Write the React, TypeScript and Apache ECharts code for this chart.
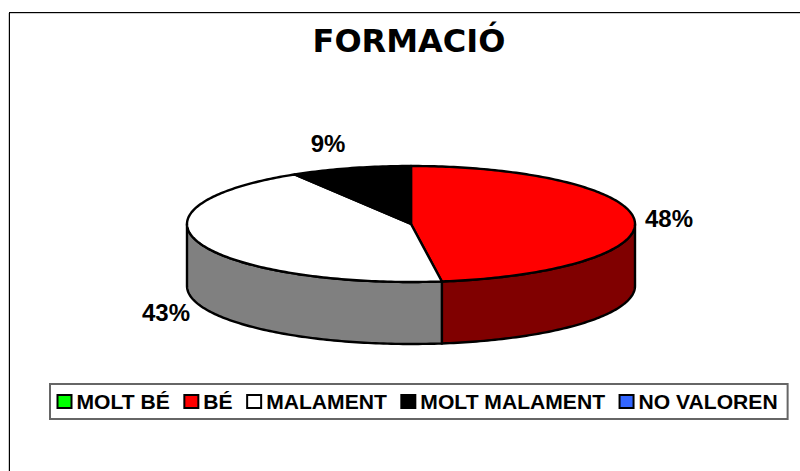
import React, { useEffect, useRef } from "react";
import * as echarts from "echarts";

const TITLE = "FORMACIÓ";
const CATEGORIES = ["MOLT BÉ", "BÉ", "MALAMENT", "MOLT MALAMENT", "NO VALOREN"];
const VALUES = [0, 47.8, 43.5, 8.7, 0];
const LABELS = ["", "48%", "43%", "9%", ""];
const TOP_COLORS = ["#00ff00", "#ff0000", "#ffffff", "#000000", "#3366ff"];
const SIDE_COLORS = ["#008000", "#800000", "#808080", "#000000", "#1a3380"];

const PIE = { cx: 411, cy: 224, rx: 224, ry: 58, depth: 62 };
const LABEL_POS: Record<number, [number, number]> = { 1: [669, 218], 2: [166, 312], 3: [328, 143] };
const SANS = '"Liberation Sans", Arial, sans-serif';

const point = (deg: number, dy = 0): number[] => {
  const r = (deg * Math.PI) / 180;
  return [PIE.cx + PIE.rx * Math.sin(r), PIE.cy - PIE.ry * Math.cos(r) + dy];
};

const arc = (from: number, to: number, dy = 0): number[][] => {
  const pts: number[][] = [];
  for (let a = from; a < to; a += 1) pts.push(point(a, dy));
  pts.push(point(to, dy));
  return pts;
};

const makeRender = (index: number) => (_params: any, api: any) => {
  const value = api.value(0);
  if (!value) return null;
  const total = VALUES.reduce((s, v) => s + v, 0);
  const before = VALUES.slice(0, index).reduce((s, v) => s + v, 0);
  const start = (before / total) * 360;
  const end = ((before + value) / total) * 360;
  const children: any[] = [];
  const sideFrom = Math.max(start, 90);
  const sideTo = Math.min(end, 270);
  if (sideTo > sideFrom) {
    children.push({
      type: "polygon",
      shape: { points: [...arc(sideFrom, sideTo), ...arc(sideFrom, sideTo, PIE.depth).reverse()] },
      style: { fill: SIDE_COLORS[index], stroke: "#000", lineWidth: 2.4, lineJoin: "round" },
    });
  }
  children.push({
    type: "polygon",
    shape: { points: [[PIE.cx, PIE.cy], ...arc(start, end)] },
    style: { fill: TOP_COLORS[index], stroke: "#000", lineWidth: 2.4, lineJoin: "round" },
  });
  const pos = LABEL_POS[index];
  if (pos) {
    children.push({
      type: "text",
      x: pos[0],
      y: pos[1],
      style: {
        text: LABELS[index],
        align: "center",
        verticalAlign: "middle",
        fontFamily: SANS,
        fontWeight: "bold",
        fontSize: 24,
        fill: "#000",
      },
    });
  }
  return { type: "group", children };
};

export default function App() {
  const ref = useRef<HTMLDivElement>(null);
  useEffect(() => {
    const chart = echarts.init(ref.current!, null, { renderer: "svg" });
    chart.setOption({
      animation: false,
      backgroundColor: "#ffffff",
      title: {
        text: TITLE,
        left: 404,
        top: 20,
        textAlign: "center",
        textStyle: { fontFamily: '"DejaVu Sans", Verdana, sans-serif', fontWeight: "bold", fontSize: 32, color: "#000" },
      },
      legend: {
        left: 50,
        top: 384,
        padding: [7, 10, 7, 6.5],
        itemGap: 13.5,
        itemWidth: 14,
        itemHeight: 13,
        backgroundColor: "#ffffff",
        borderColor: "#666666",
        borderWidth: 2,
        selectedMode: false,
        icon: "rect",
        textStyle: { fontFamily: SANS, fontWeight: "bold", fontSize: 21.1, color: "#000" },
        itemStyle: { borderColor: "#000", borderWidth: 2 },
        data: CATEGORIES.map((name, i) => ({
          name,
          icon: "rect",
          itemStyle: { color: TOP_COLORS[i], borderColor: "#000", borderWidth: 2 },
        })),
      },
      graphic: [
        { type: "rect", shape: { x: 8, y: 13, width: 1, height: 458 }, style: { fill: "#cccccc" } },
        { type: "rect", shape: { x: 10, y: 13, width: 790, height: 1 }, style: { fill: "#cccccc" } },
        { type: "rect", shape: { x: 9, y: 12, width: 791, height: 1 }, style: { fill: "#000" } },
        { type: "rect", shape: { x: 9, y: 12, width: 1, height: 459 }, style: { fill: "#000" } },
      ],
      series: CATEGORIES.map((name, i) => ({
        type: "custom",
        name,
        coordinateSystem: "none",
        itemStyle: { color: TOP_COLORS[i] },
        renderItem: makeRender(i),
        data: [[VALUES[i]]],
      })),
    });
    return () => chart.dispose();
  }, []);
  return <div ref={ref} style={{ position: "absolute", left: 0, top: 0, width: 800, height: 471 }} />;
}
